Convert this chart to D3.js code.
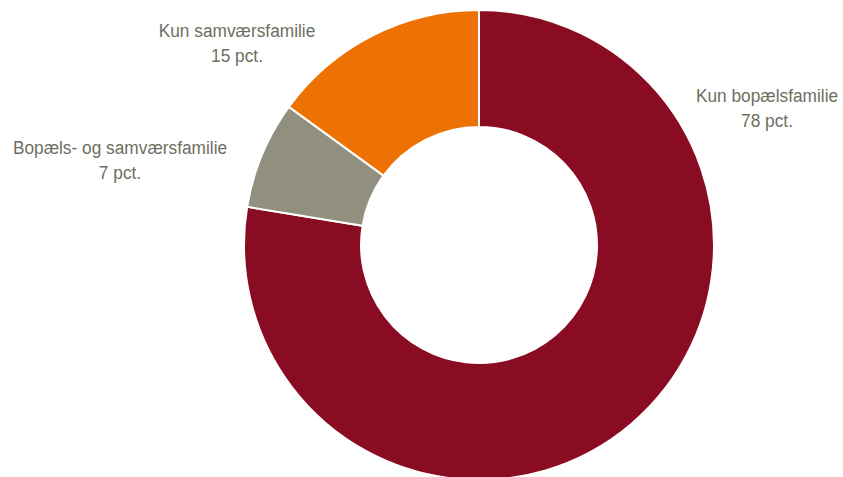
<!DOCTYPE html>
<html><head><meta charset="utf-8">
<script src="https://cdn.jsdelivr.net/npm/d3@7"></script>
<style>body{margin:0;background:#fff}svg{display:block}</style>
</head><body>
<svg id="c" width="843" height="477"></svg>
<script>
const categories = ["Kun bopælsfamilie", "Bopæls- og samværsfamilie", "Kun samværsfamilie"];
const values = [77.6, 7.4, 15.0];
const valueLabels = ["78 pct.", "7 pct.", "15 pct."];
const colors = ["#8A0C23", "#918F7E", "#EE7203"];

const svg = d3.select("#c");
const cx = 479, cy = 245, rOuter = 235, rInner = 118;
const g = svg.append("g").attr("transform", `translate(${cx},${cy})`);
const pie = d3.pie().sort(null).value(d => d)(values);
const arc = d3.arc().innerRadius(rInner).outerRadius(rOuter);
g.selectAll("path").data(pie).join("path")
  .attr("d", arc)
  .attr("fill", (d, i) => colors[i])
  .attr("stroke", "#fff").attr("stroke-width", 2);

const labelPos = [[767, 102], [120, 154], [237, 37]];
const font = "'Liberation Sans Narrow','Arial Narrow','Liberation Sans',Arial,sans-serif";
categories.forEach((c, i) => {
  const t = svg.append("text").attr("text-anchor", "middle")
    .attr("transform", `translate(${labelPos[i][0]},${labelPos[i][1]}) scale(0.91,1)`)
    .attr("font-family", font).attr("font-size", 19).attr("fill", "#6E6E60");
  t.append("tspan").attr("x", 0).text(c);
  t.append("tspan").attr("x", 0).attr("dy", 25).text(valueLabels[i]);
});
</script>
</body></html>
